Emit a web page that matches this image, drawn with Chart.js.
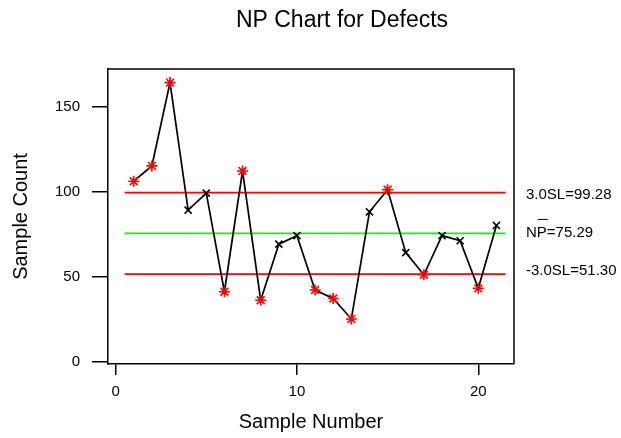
<!DOCTYPE html>
<html>
<head>
<meta charset="utf-8">
<title>NP Chart for Defects</title>
<script src="https://cdn.jsdelivr.net/npm/chart.js@4.4.1/dist/chart.umd.min.js"></script>
<style>
  html, body { margin: 0; padding: 0; background: #fff; }
  #npChart { display: block; }
</style>
</head>
<body>
<canvas id="npChart" width="621" height="438"></canvas>
<script>
// Số lỗi theo từng mẫu (n = 500)
const sampleNumbers = [1, 2, 3, 4, 5, 6, 7, 8, 9, 10, 11, 12, 13, 14, 15, 16, 17, 18, 19, 20, 21];
const defectCounts = [106, 115, 164, 89, 99, 41, 112, 36, 69, 74, 42, 37, 25, 88, 101, 64, 51, 74, 71, 43, 80];

// Giới hạn kiểm soát
const limitNames = ['3.0SL', 'NP', '-3.0SL'];
const limitValues = [99.28, 75.29, 51.30];
const limitColors = ['#ff0000', '#11ee11', '#ff0000'];
const limitSpan = [0.5, 21.5];

const xTicks = [0, 10, 20];
const yTicks = [0, 50, 100, 150];

const FONT = 'Arial, "Liberation Sans", sans-serif';
const UCL = limitValues[0], LCL = limitValues[2];
const outOfControl = (v) => v > UCL || v < LCL;

// Tiêu đề, khung trên/phải và nhãn giới hạn bên phải
const decorPlugin = {
    id: 'decor',
    afterDraw(chart) {
        const { ctx, chartArea: a, scales: { y } } = chart;
        ctx.save();
        ctx.strokeStyle = '#000';
        ctx.lineWidth = 1.5;
        ctx.beginPath();
        ctx.moveTo(a.left, a.top);
        ctx.lineTo(a.right, a.top);
        ctx.lineTo(a.right, a.bottom);
        ctx.stroke();

        ctx.fillStyle = '#000';
        ctx.font = '23px ' + FONT;
        ctx.textAlign = 'center';
        ctx.textBaseline = 'alphabetic';
        ctx.fillText('NP Chart for Defects', 342, 27);

        ctx.font = '15px ' + FONT;
        ctx.textAlign = 'left';
        ctx.textBaseline = 'middle';
        limitValues.forEach((v, i) => {
            const yy = y.getPixelForValue(v) + (i === 0 ? 2 : i === 2 ? -3 : -1);
            const txt = limitNames[i] + '=' + v.toFixed(2);
            ctx.fillText(txt, 526, yy);
            if (limitNames[i] === 'NP') {
                // gạch ngang phía trên ký hiệu NP
                const wN = ctx.measureText('N').width;
                ctx.lineWidth = 1;
                ctx.beginPath();
                ctx.moveTo(526 + wN + 1, yy - 13);
                ctx.lineTo(526 + wN + 11, yy - 13);
                ctx.stroke();
            }
        });
        ctx.restore();
    }
};

const limitDatasets = limitValues.map((v, i) => ({
    label: limitNames[i],
    data: limitSpan.map(x => ({ x, y: v })),
    borderColor: limitColors[i],
    borderWidth: 1.8,
    pointRadius: 0,
    order: 3
}));

new Chart(document.getElementById('npChart'), {
    type: 'line',
    data: {
        datasets: [
            ...limitDatasets,
            {
                label: 'Sample Count',
                data: sampleNumbers.map((x, i) => ({ x, y: defectCounts[i] })),
                borderColor: '#000',
                borderWidth: 1.7,
                tension: 0,
                pointStyle: (c) => outOfControl(c.raw.y) ? 'star' : 'crossRot',
                pointRadius: (c) => outOfControl(c.raw.y) ? 5.5 : 5,
                pointBorderWidth: 1.6,
                pointBorderColor: (c) => outOfControl(c.raw.y) ? '#ff0000' : '#000',
                pointBackgroundColor: 'transparent',
                order: 1
            }
        ]
    },
    options: {
        responsive: false,
        animation: false,
        events: [],
        layout: { padding: { top: 69, right: 107, left: 0, bottom: 0 } },
        plugins: { legend: { display: false }, title: { display: false }, tooltip: { enabled: false } },
        scales: {
            x: {
                type: 'linear',
                min: -0.42,
                max: 21.97,
                afterFit: (s) => { s.height = 74; },
                afterBuildTicks: (s) => { s.ticks = xTicks.map(value => ({ value })); },
                ticks: { font: { family: FONT, size: 15 }, color: '#000', padding: 8, maxRotation: 0 },
                grid: { drawOnChartArea: false, tickLength: 11, color: '#000', lineWidth: 1.5 },
                border: { display: true, color: '#000', width: 1.5 },
                title: { display: true, text: 'Sample Number', color: '#000', font: { family: FONT, size: 20 }, padding: { top: 0, bottom: 4 } }
            },
            y: {
                type: 'linear',
                min: -1.5,
                max: 172,
                afterFit: (s) => { s.width = 108; },
                afterBuildTicks: (s) => { s.ticks = yTicks.map(value => ({ value })); },
                ticks: { font: { family: FONT, size: 15 }, color: '#000', padding: 12 },
                grid: { drawOnChartArea: false, tickLength: 16, color: '#000', lineWidth: 1.5 },
                border: { display: true, color: '#000', width: 1.5 },
                title: { display: true, text: 'Sample Count', color: '#000', font: { family: FONT, size: 20 }, padding: { top: 9, bottom: 0 } }
            }
        }
    },
    plugins: [decorPlugin]
});
</script>
</body>
</html>
